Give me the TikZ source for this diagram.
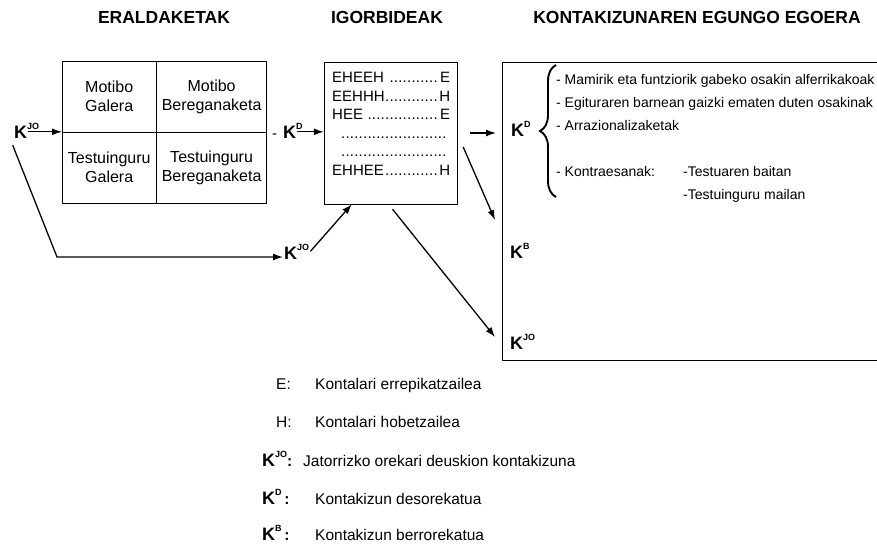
\documentclass[tikz,border=0pt]{standalone}
\usepackage{fontspec}
\setmainfont{Liberation Sans}
\usetikzlibrary{calc,positioning,arrows.meta,decorations.pathreplacing}

% K with a raised index
\newcommand\Kk[1]{{\bfseries\fontsize{18}{18}\selectfont K}\raisebox{9pt}{\bfseries\fontsize{9}{9}\selectfont #1}}
% same, index sticking out over the arrow
\newcommand\Kr[1]{{\bfseries\fontsize{18}{18}\selectfont K}\rlap{\smash{\raisebox{9pt}{\bfseries\fontsize{9}{9}\selectfont #1}}}}
% one row of the transmission box
\newcommand\irow[2]{\hbox to 118pt{#1\leaders\hbox to 4.4pt{\hss.\hss}\hfill #2}}

\begin{document}
\begin{tikzpicture}[
    x=1pt, y=-1pt,
    cell/.style={rectangle, draw, minimum height=70.5pt, inner sep=0pt, align=center, font=\fontsize{16}{19}\selectfont},
    box/.style={rectangle, draw, inner sep=0pt},
    head/.style={font=\bfseries\fontsize{17.5}{17.5}\selectfont},
    kay/.style={inner sep=1pt},
    legend/.style={anchor=base west, inner sep=0pt, font=\fontsize{15.5}{15.5}\selectfont},
    arrow/.style={-{Latex[length=10pt, width=7pt]}, line width=1.3pt}
]
    \useasboundingbox (0,0) rectangle (877,544);
    \clip (0,0) rectangle (877,544);

    % headings
    \node[head] (hera) at (164,17) {ERALDAKETAK};
    \node[head] (higo) at (387,17) {IGORBIDEAK};
    \node[head] (hkon) at (697,17) {KONTAKIZUNAREN EGUNGO EGOERA};

    % transformations
    \node[cell, minimum width=94pt, anchor=south west] (mgal) at (62,132) {Motibo\\Galera};
    \node[cell, minimum width=110pt, right=0pt of mgal] (mber) {Motibo\\Bereganaketa};
    \node[cell, minimum width=94pt, below=0pt of mgal] (tgal) {Testuinguru\\Galera};
    \node[cell, minimum width=110pt, right=0pt of tgal] (tber) {Testuinguru\\Bereganaketa};

    \node[kay, anchor=base west] (kjo1) at (13,138) {\Kr{JO}};
    \node[kay, anchor=base west] (kd1) at (271,138) {{\fontsize{15}{15}\selectfont -}\hspace{6pt}\Kr{D}};
    \node[kay, anchor=base west] (kjo2) at (283,259) {\Kk{JO}};

    % transmissions
    \node[box, minimum width=133pt, minimum height=142pt] (igor) at (390.5,133) {};
    \node[inner sep=0pt, anchor=north west, align=left, font=\fontsize{15}{18.6}\selectfont] (rows) at (332,72) {%
        \irow{EHEEH\ }{E}\\
        \irow{EEHHH}{H}\\
        \irow{HEE\ }{E}\\
        \irow{\hspace{5pt}}{}\\
        \irow{\hspace{5pt}}{}\\
        \irow{EHHEE}{H}};

    % present state
    \node[box, anchor=north west, minimum width=420pt, minimum height=298pt] (state) at (502,62) {};
    \node[kay, anchor=base west] (kd2) at (510,136) {\Kk{D}};
    \node[kay, anchor=base west] (kb) at (509,258) {\Kk{B}};
    \node[kay, anchor=base west] (kjo3) at (509,349) {\Kk{JO}};
    \draw[line width=1.9pt, decorate, decoration={brace, amplitude=16pt}] (556,197) -- (556,65);
    \node[inner sep=0pt, anchor=north west] (items) at (556,68) {\fontsize{14}{23}\selectfont
        \begin{tabular}{@{}l@{}l@{}}
            \multicolumn{2}{@{}l@{}}{- Mamirik eta funtziorik gabeko osakin alferrikakoak}\\
            \multicolumn{2}{@{}l@{}}{- Egituraren barnean gaizki ematen duten osakinak}\\
            \multicolumn{2}{@{}l@{}}{- Arrazionalizaketak}\\
            & \\
            \makebox[127pt][l]{- Kontraesanak:} & -Testuaren baitan\\
            & -Testuinguru mailan
        \end{tabular}};

    % connectors
    \coordinate (bend) at (57,257);
    \coordinate (tob) at (495,220);
    \coordinate (tojo) at (495,337);
    \draw[arrow] (kjo1.east) -- (kjo1.east -| mgal.west);
    \draw[arrow] ($(kjo1.south)+(-8,6)$) -- (bend) -- (bend -| kjo2.west);
    \draw[arrow] (kd1.east) -- (kd1.east -| igor.west);
    \draw[arrow] (kjo2.east) -- ($(igor.south west)!0.21!(igor.south east)$);
    \draw[arrow] ($(igor.east)+(13,0)$) -- ($(kd2.west |- igor.east)+(-14,0)$);
    \draw[arrow] ($(igor.east)+(6,14)$) -- (tob);
    \draw[arrow] ($(igor.south)+(2,5)$) -- (tojo);

    % legend
    \node[legend] (lE) at (276,389) {E:};
    \node[legend] (lEt) at (315,389) {Kontalari errepikatzailea};
    \node[legend] (lH) at (276,427) {H:};
    \node[legend] (lHt) at (315,427) {Kontalari hobetzailea};
    \node[legend] (lJO) at (262,466) {\Kk{JO}\textbf{:}};
    \node[legend] (lJOt) at (303,466) {Jatorrizko orekari deuskion kontakizuna};
    \node[legend] (lD) at (262,504) {\Kk{D}\,\textbf{:}};
    \node[legend] (lDt) at (315,504) {Kontakizun desorekatua};
    \node[legend] (lB) at (262,540) {\Kk{B}\,\textbf{:}};
    \node[legend] (lBt) at (315,540) {Kontakizun berrorekatua};
\end{tikzpicture}
\end{document}
